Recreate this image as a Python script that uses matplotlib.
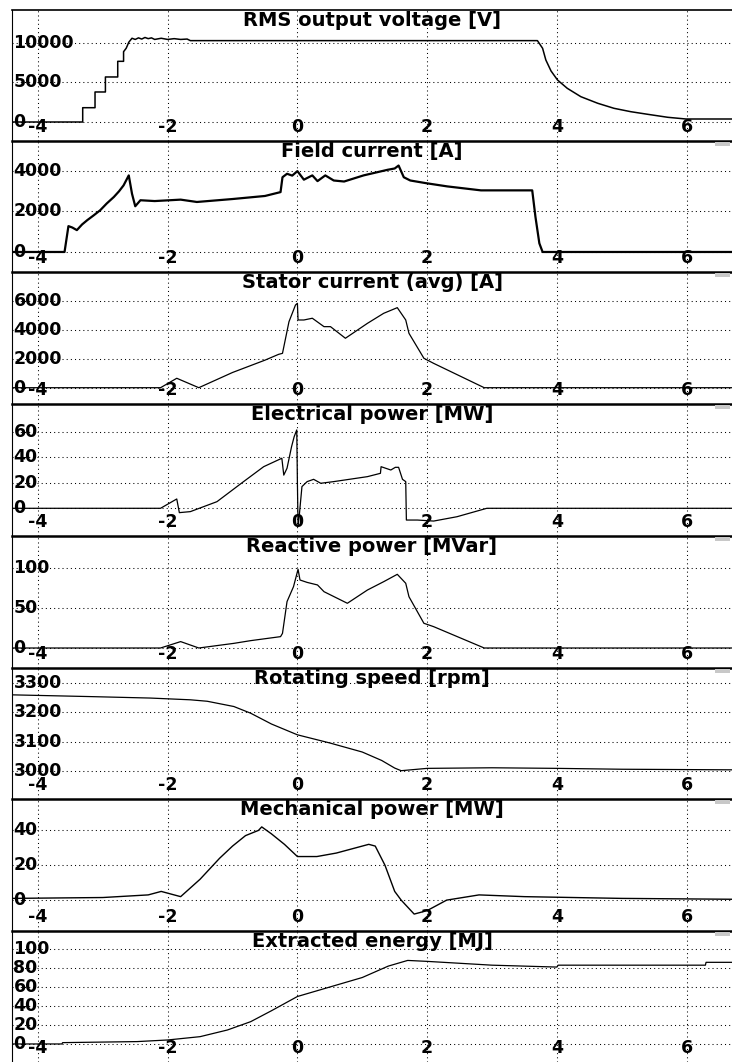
import matplotlib
matplotlib.use("Agg")
import matplotlib.pyplot as plt
import matplotlib.transforms as mtransforms
from matplotlib.patches import Rectangle

plt.rcParams['font.family'] = ['DejaVu Sans']

# time axis is seconds, same for every panel
x_ticks = [-4, -2, 0, 2, 4, 6]

titles = ["RMS output voltage [V]", "Field current [A]", "Stator current (avg) [A]",
          "Electrical power [MW]", "Reactive power [MVar]", "Rotating speed [rpm]",
          "Mechanical power [MW]", "Extracted energy [MJ]"]

volt_t = [-4.4, -3.31, -3.31, -3.12, -3.12, -2.96, -2.96, -2.77, -2.77, -2.68, -2.68, -2.64, -2.62,
          -2.60, -2.57, -2.55, -2.50, -2.45, -2.40, -2.35, -2.30, -2.25, -2.20, -2.10, -2.00, -1.90,
          -1.80, -1.70, -1.65, 3.70, 3.78, 3.83, 3.91, 4.01, 4.16, 4.37, 4.63, 4.88, 5.14, 5.40,
          5.71, 5.99, 6.7]
volt_v = [0, 0, 1810, 1810, 3800, 3800, 5700, 5700, 7680, 7680, 8900, 9330, 9700,
          10090, 10400, 10600, 10450, 10650, 10500, 10700, 10550, 10650, 10450, 10600, 10450, 10550,
          10450, 10500, 10300, 10300, 9330, 7850, 6460, 5317, 4266, 3203, 2370, 1734, 1304, 975,
          595, 380, 380]

field_t = [-4.4, -3.59, -3.53, -3.47, -3.40, -3.32, -3.24, -3.14, -3.04, -2.94, -2.83, -2.75, -2.68,
           -2.60, -2.55, -2.50, -2.42, -2.20, -1.80, -1.55, -1.0, -0.5, -0.26, -0.23, -0.16, -0.08,
           0.0, 0.10, 0.23, 0.31, 0.43, 0.56, 0.72, 1.02, 1.39, 1.50, 1.56, 1.64, 1.74, 1.98, 2.31,
           2.83, 3.62, 3.67, 3.73, 3.78, 6.7]
field_v = [0, 0, 1270, 1200, 1073, 1350, 1562, 1800, 2050, 2380, 2700, 2980, 3270,
           3760, 2860, 2245, 2540, 2500, 2570, 2455, 2600, 2750, 2940, 3670, 3840, 3750,
           3970, 3550, 3760, 3480, 3760, 3510, 3460, 3760, 4035, 4100, 4245, 3670, 3510, 3380, 3220,
           3025, 3025, 1720, 425, 0, 0]

stator_t = [-4.4, -2.11, -1.86, -1.52, -1.0, -0.5, -0.29, -0.23, -0.13, -0.03, 0.0, 0.01, 0.10,
            0.23, 0.41, 0.51, 0.74, 1.08, 1.33, 1.54, 1.67, 1.72, 1.95, 2.10, 2.88, 6.7]
stator_v = [0, 0, 650, 0, 1050, 1900, 2300, 2370, 4550, 5700, 5820, 4670, 4670,
            4790, 4210, 4210, 3410, 4440, 5130, 5520, 4670, 3750, 2030, 1680, 0, 0]

elec_t = [-4.4, -2.11, -1.86, -1.82, -1.65, -1.24, -0.83, -0.52, -0.24, -0.21, -0.16, -0.09,
          -0.05, -0.01, 0.0, 0.01, 0.03, 0.07, 0.15, 0.25, 0.36, 0.56, 1.08, 1.28, 1.29, 1.44,
          1.51, 1.56, 1.62, 1.67, 1.68, 1.85, 2.10, 2.46, 2.92, 6.7]
elec_v = [0, 0, 7.3, -3.4, -2.6, 5.2, 20.9, 32.6, 39.2, 26, 31.4, 48.3,
          56.1, 61.4, 20, -14.4, -5, 17, 20.9, 22.7, 19.6, 20.9, 24.8, 27.4, 32.6, 30,
          32.1, 32.1, 22.7, 20.9, -9.2, -9.2, -10, -6.6, 0, 0]

react_t = [-4.4, -2.11, -1.80, -1.52, -0.98, -0.72, -0.26, -0.23, -0.16, -0.06, 0.01, 0.04,
           0.15, 0.31, 0.41, 0.77, 1.08, 1.33, 1.54, 1.67, 1.72, 1.95, 2.10, 2.88, 6.7]
react_v = [0, 0, 8, 0, 5.8, 9.2, 14.2, 18.3, 58, 76.7, 98.4, 85,
           82, 78.8, 70.4, 55.9, 72.5, 82.9, 92.1, 80.9, 64.1, 30.9, 26.7, 0, 0]

speed_t = [-4.4, -3.19, -2.27, -1.65, -1.39, -0.98, -0.72, -0.4, 0.0, 0.5, 1.0, 1.3, 1.5, 1.6,
           2.0, 3.0, 4.0, 5.0, 6.7]
speed_v = [3260, 3254, 3249, 3243, 3238, 3220, 3197, 3160, 3123, 3095, 3064, 3035, 3009, 3000,
           3008, 3010, 3008, 3005, 3003]

mech_t = [-4.4, -3.0, -2.3, -2.1, -1.8, -1.5, -1.2, -1.0, -0.8, -0.6, -0.55, -0.4, -0.2, 0.0,
          0.3, 0.6, 0.9, 1.1, 1.2, 1.35, 1.5, 1.6, 1.8, 2.0, 2.3, 2.8, 3.5, 5.0, 6.7]
mech_v = [1, 1.5, 3, 5, 2, 12, 24, 31, 37, 40, 42, 38, 32, 25,
          25, 27, 30, 32, 31, 20, 5, 0, -8, -6, 0, 3, 2, 1, 0.5]

energy_t = [-4.4, -3.63, -3.62, -2.47, -2.0, -1.5, -1.08, -0.72, -0.4, 0.0, 0.5, 1.0, 1.4, 1.7,
            2.0, 2.5, 3.0, 4.0, 4.02, 6.29, 6.3, 6.7]
energy_v = [0, 0, 1.4, 2.5, 4.2, 7.7, 14.7, 23.5, 35, 50, 60, 70, 82, 88,
            87, 85, 83, 81, 83, 83, 86, 86]

series = [(volt_t, volt_v), (field_t, field_v), (stator_t, stator_v), (elec_t, elec_v),
          (react_t, react_v), (speed_t, speed_v), (mech_t, mech_v), (energy_t, energy_v)]

y_ticks = [[0, 5000, 10000], [0, 2000, 4000], [0, 2000, 4000, 6000], [0, 20, 40, 60],
           [0, 50, 100], [3000, 3100, 3200, 3300], [0, 20, 40], [0, 20, 40, 60, 80, 100]]
y_lims = [(-2405, 14177), (-983, 5449), (-1124, 7979), (-21.7, 81.7),
          (-25, 140), (2903, 3352), (-17.7, 58), (-19, 119)]
line_w = [1.1, 1.6, 0.9, 0.9, 0.9, 0.9, 1.0, 0.9]

W, H = 732, 1062
fig = plt.figure(figsize=(W / 100, H / 100), dpi=100)
edges = [10, 141, 272, 404, 536, 668, 799, 931, 1062]
left = 12

for i in range(8):
    top, bot = edges[i], edges[i + 1]
    ax = fig.add_axes([left / W, 1 - bot / H, (W - left) / W, (bot - top) / H])
    ax.set_xlim(-4.4, 6.7)
    ax.set_ylim(*y_lims[i])
    t, v = series[i]
    ax.plot(t, v, color='black', lw=line_w[i], zorder=3)

    for xv in x_ticks:
        ax.axvline(xv, color='black', lw=0.75, ls=(0, (1, 3)), zorder=1)
    for yv in y_ticks[i]:
        ax.axhline(yv, color='black', lw=0.75, ls=(0, (1, 3)), zorder=1)

    ax.set_xticks([])
    ax.set_yticks([])
    for s in ['right', 'bottom']:
        ax.spines[s].set_visible(False)
    ax.spines['left'].set_linewidth(0.8)
    ax.spines['top'].set_linewidth(1.2 if i == 0 else 1.8)

    trx = mtransforms.blended_transform_factory(ax.transData, ax.transAxes)
    try_ = mtransforms.blended_transform_factory(ax.transAxes, ax.transData)
    for xv in x_ticks:
        ax.text(xv, 0.035, str(xv), transform=trx, ha='center', va='bottom',
                fontsize=12.5, fontweight='bold', zorder=4)
    for yv in y_ticks[i]:
        ax.text(0.002, yv, str(yv), transform=try_, ha='left', va='center',
                fontsize=12.5, fontweight='bold', zorder=4)
    ax.text(0.5, 0.995, titles[i], transform=ax.transAxes, ha='center', va='top',
            fontsize=14, fontweight='bold', zorder=4)

    # small grey tab at the right end of each separator
    if i < 7:
        fig.patches.append(Rectangle((715 / W, 1 - (bot + 5) / H), 15 / W, 4 / H,
                                     transform=fig.transFigure, facecolor='#c8c8c8',
                                     edgecolor='none', zorder=5))

fig.savefig("out.png", dpi=100)
